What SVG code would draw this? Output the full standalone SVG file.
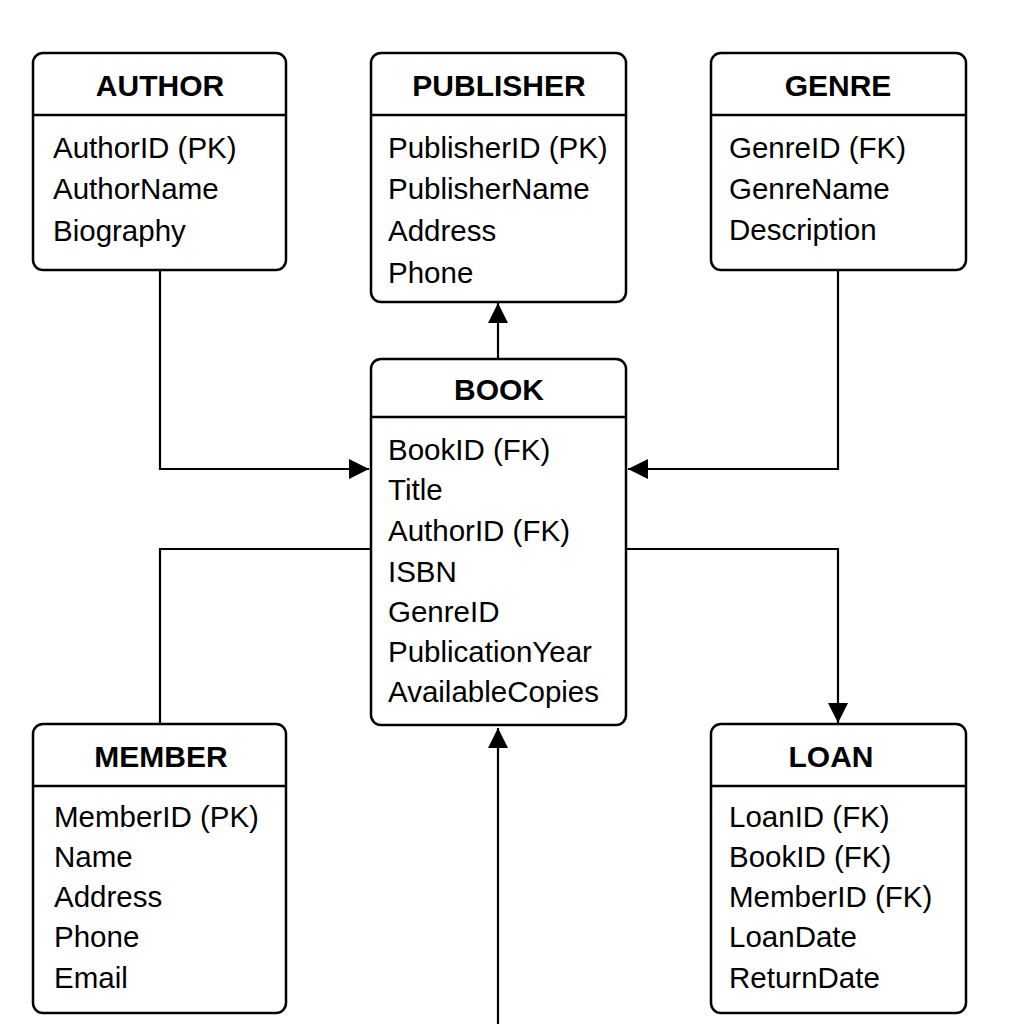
<svg xmlns="http://www.w3.org/2000/svg" width="1024" height="1024" viewBox="0 0 1024 1024">
<style>
.box{fill:#fff;stroke:#000;stroke-width:2.5}
.div{stroke:#000;stroke-width:2.5}
.t{font-family:"Liberation Sans",Arial,sans-serif;font-size:30px;font-weight:bold;text-anchor:middle;fill:#000}
.f{font-family:"Liberation Sans",Arial,sans-serif;font-size:29.5px;fill:#000}
.c{fill:none;stroke:#000;stroke-width:2.2}
</style>
<defs>
<marker id="arr" viewBox="0 0 20 20" refX="20" refY="10" markerWidth="20" markerHeight="20" markerUnits="userSpaceOnUse" orient="auto">
<path d="M0,0 L20,10 L0,20 Z" fill="#000"/>
</marker>
</defs>
<rect width="1024" height="1024" fill="#fff"/>
<g id="connectors">
<path class="c" d="M160,270 V469 H369" marker-end="url(#arr)"/>
<path class="c" d="M838,270 V469 H628" marker-end="url(#arr)"/>
<path class="c" d="M498,359 V303" marker-end="url(#arr)"/>
<path class="c" d="M371,549 H160 V724"/>
<path class="c" d="M626,549 H838 V723" marker-end="url(#arr)"/>
<path class="c" d="M498,1024 V728" marker-end="url(#arr)"/>
</g>
<g id="author">
<rect class="box" x="33" y="53" width="253" height="217" rx="10"/>
<line class="div" x1="33" y1="115" x2="286" y2="115"/>
<text class="t" x="160" y="96">AUTHOR</text>
<text class="f" x="53" y="158">AuthorID (PK)</text>
<text class="f" x="53" y="199">AuthorName</text>
<text class="f" x="53" y="241">Biography</text>
</g>
<g id="publisher">
<rect class="box" x="371" y="53" width="255" height="249" rx="10"/>
<line class="div" x1="371" y1="115" x2="626" y2="115"/>
<text class="t" x="499" y="96">PUBLISHER</text>
<text class="f" x="388" y="158">PublisherID (PK)</text>
<text class="f" x="388" y="199">PublisherName</text>
<text class="f" x="388" y="241">Address</text>
<text class="f" x="388" y="283">Phone</text>
</g>
<g id="genre">
<rect class="box" x="711" y="53" width="255" height="217" rx="10"/>
<line class="div" x1="711" y1="115" x2="966" y2="115"/>
<text class="t" x="838" y="96">GENRE</text>
<text class="f" x="729" y="158">GenreID (FK)</text>
<text class="f" x="729" y="199">GenreName</text>
<text class="f" x="729" y="240">Description</text>
</g>
<g id="book">
<rect class="box" x="371" y="359" width="255" height="366" rx="10"/>
<line class="div" x1="371" y1="417" x2="626" y2="417"/>
<text class="t" x="499" y="400">BOOK</text>
<text class="f" x="388" y="460">BookID (FK)</text>
<text class="f" x="388" y="500">Title</text>
<text class="f" x="388" y="541">AuthorID (FK)</text>
<text class="f" x="388" y="582">ISBN</text>
<text class="f" x="388" y="622">GenreID</text>
<text class="f" x="388" y="662">PublicationYear</text>
<text class="f" x="388" y="702">AvailableCopies</text>
</g>
<g id="member">
<rect class="box" x="33" y="724" width="253" height="289" rx="10"/>
<line class="div" x1="33" y1="786" x2="286" y2="786"/>
<text class="t" x="161" y="767">MEMBER</text>
<text class="f" x="54" y="827">MemberID (PK)</text>
<text class="f" x="54" y="867">Name</text>
<text class="f" x="54" y="907">Address</text>
<text class="f" x="54" y="947">Phone</text>
<text class="f" x="54" y="988">Email</text>
</g>
<g id="loan">
<rect class="box" x="711" y="724" width="255" height="289" rx="10"/>
<line class="div" x1="711" y1="786" x2="966" y2="786"/>
<text class="t" x="831" y="767">LOAN</text>
<text class="f" x="729" y="827">LoanID (FK)</text>
<text class="f" x="729" y="867">BookID (FK)</text>
<text class="f" x="729" y="907">MemberID (FK)</text>
<text class="f" x="729" y="947">LoanDate</text>
<text class="f" x="729" y="988">ReturnDate</text>
</g>
</svg>
